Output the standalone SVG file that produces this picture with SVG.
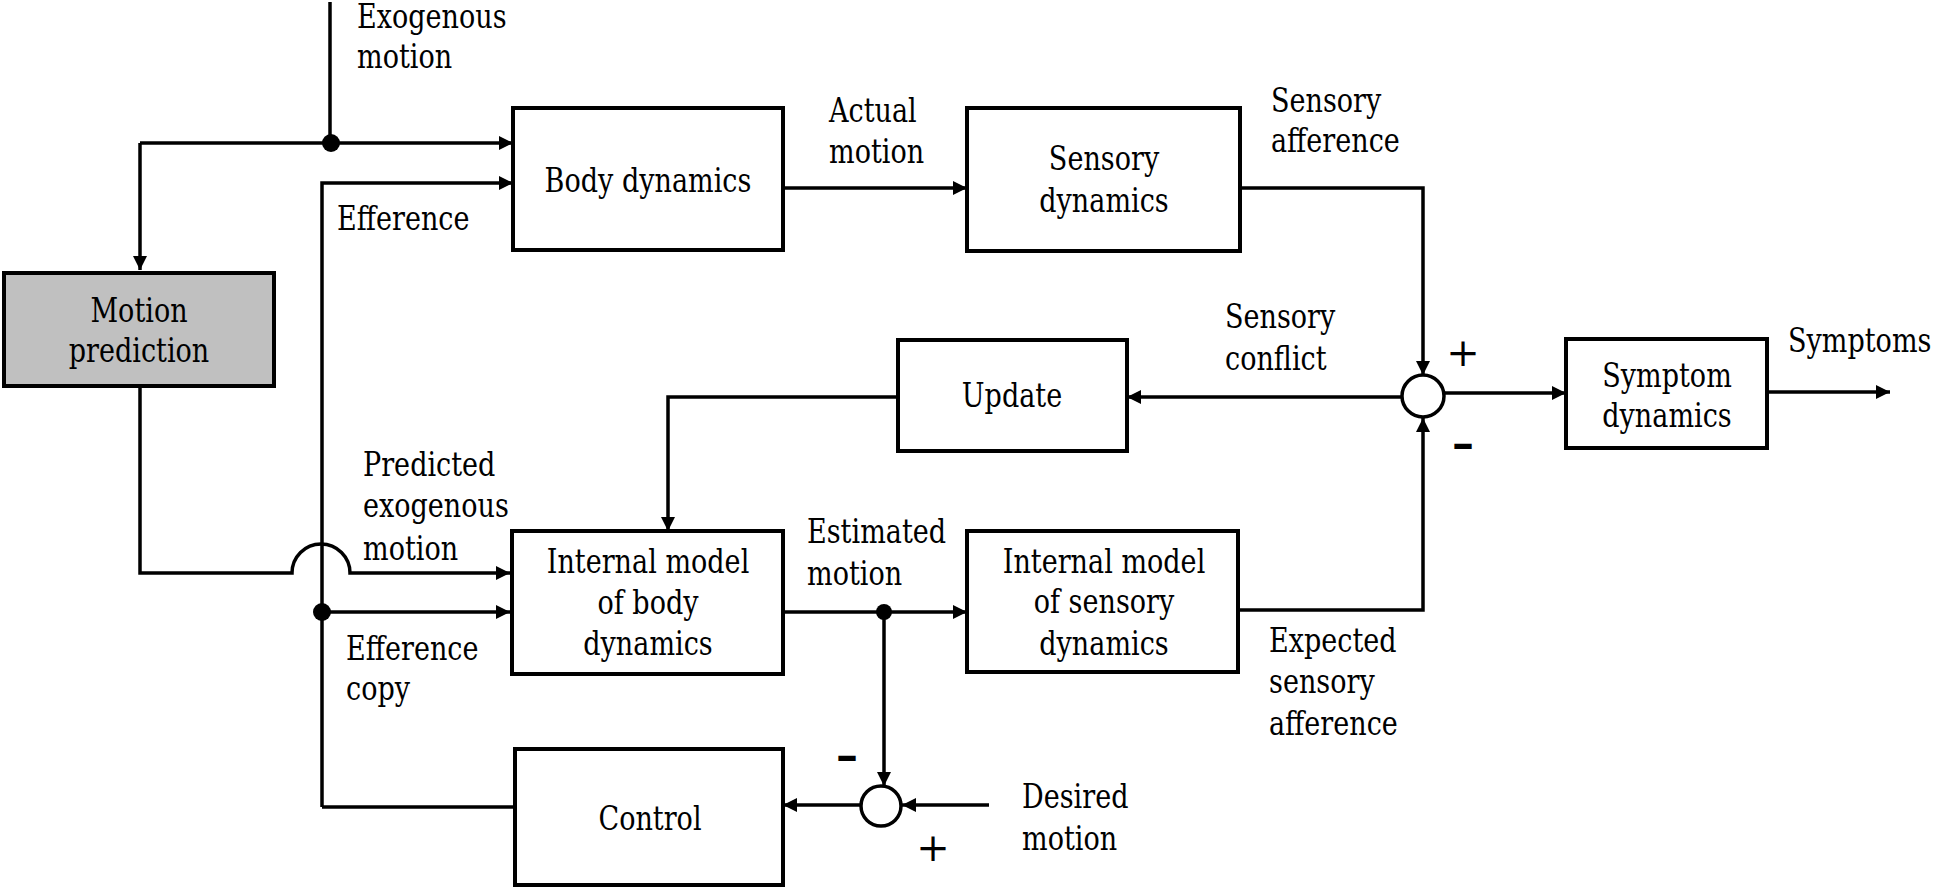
<svg xmlns="http://www.w3.org/2000/svg" width="1940" height="891" viewBox="0 0 1940 891">
<style>
text{font-family:"DejaVu Serif",serif;font-size:33px}
.c{text-anchor:middle}
.box{fill:#fff;stroke:#000;stroke-width:4}
.gray{fill:#c0c0c0}
.ln{fill:none;stroke:#000;stroke-width:3.5}
.arr{marker-end:url(#ah)}
.dot{fill:#000}
.sum{fill:#fff;stroke:#000;stroke-width:3.5}
.pl{font-size:40px}
.mn{font-size:44px;font-weight:700}
</style>
<defs>
<marker id="ah" viewBox="0 0 14 14" refX="14" refY="7" markerWidth="14" markerHeight="14" markerUnits="userSpaceOnUse" orient="auto">
<path d="M0,0 L14,7 L0,14 Z" fill="#000"/>
</marker>
</defs>
<rect width="1940" height="891" fill="#fff"/>
<g id="connectors">
<path class="ln" d="M330,2 V143"/>
<path class="ln arr" d="M140,143 H513"/>
<path class="ln arr" d="M140,143 V270"/>
<path class="ln arr" d="M322,807 V183 H513"/>
<path class="ln" d="M515,807 H322"/>
<path class="ln arr" d="M140,386 V573 H292 A29,29 0 0 1 350,573 H510"/>
<path class="ln arr" d="M322,612 H510"/>
<path class="ln arr" d="M783,188 H967"/>
<path class="ln arr" d="M1240,188 H1423 V375"/>
<path class="ln arr" d="M1444,393 H1566"/>
<path class="ln arr" d="M1767,392 H1890"/>
<path class="ln arr" d="M1402,397 H1127"/>
<path class="ln arr" d="M898,397 H668 V531"/>
<path class="ln arr" d="M783,612 H967"/>
<path class="ln arr" d="M1238,610 H1423 V418"/>
<path class="ln arr" d="M884,612 V786"/>
<path class="ln arr" d="M989,805 H902"/>
<path class="ln arr" d="M861,805 H783"/>
<circle class="dot" cx="331" cy="143" r="9"/>
<circle class="dot" cx="322" cy="612" r="9"/>
<circle class="dot" cx="884" cy="612" r="8"/>
</g>
<g id="labels">
<text transform="translate(357,28) scale(.82,1)">Exogenous</text>
<text transform="translate(357,68) scale(.82,1)">motion</text>
<text transform="translate(337,230) scale(.82,1)">Efference</text>
<text transform="translate(829,122) scale(.82,1)">Actual</text>
<text transform="translate(829,163) scale(.82,1)">motion</text>
<text transform="translate(1271,112) scale(.82,1)">Sensory</text>
<text transform="translate(1271,152) scale(.82,1)">afference</text>
<text transform="translate(1225,328) scale(.82,1)">Sensory</text>
<text transform="translate(1225,370) scale(.82,1)">conflict</text>
<text transform="translate(1788,352) scale(.82,1)">Symptoms</text>
<text transform="translate(363,476) scale(.82,1)">Predicted</text>
<text transform="translate(363,517) scale(.82,1)">exogenous</text>
<text transform="translate(363,560) scale(.82,1)">motion</text>
<text transform="translate(346,660) scale(.82,1)">Efference</text>
<text transform="translate(346,700) scale(.82,1)">copy</text>
<text transform="translate(807,543) scale(.82,1)">Estimated</text>
<text transform="translate(807,585) scale(.82,1)">motion</text>
<text transform="translate(1269,652) scale(.82,1)">Expected</text>
<text transform="translate(1269,693) scale(.82,1)">sensory</text>
<text transform="translate(1269,735) scale(.82,1)">afference</text>
<text transform="translate(1022,808) scale(.82,1)">Desired</text>
<text transform="translate(1022,850) scale(.82,1)">motion</text>
<text class="c pl" x="1463" y="366">+</text>
<text class="c mn" x="1463" y="458">–</text>
<text class="c mn" x="847" y="770">–</text>
<text class="c pl" x="933" y="861">+</text>
</g>
<g id="motion-prediction">
<rect class="box gray" x="4" y="273" width="270" height="113"/>
<text class="c" transform="translate(139,322) scale(.82,1)">Motion</text>
<text class="c" transform="translate(139,362) scale(.82,1)">prediction</text>
</g>
<g id="body-dynamics">
<rect class="box" x="513" y="108" width="270" height="142"/>
<text class="c" transform="translate(648,192) scale(.82,1)">Body dynamics</text>
</g>
<g id="sensory-dynamics">
<rect class="box" x="967" y="108" width="273" height="143"/>
<text class="c" transform="translate(1104,170) scale(.82,1)">Sensory</text>
<text class="c" transform="translate(1104,212) scale(.82,1)">dynamics</text>
</g>
<g id="update">
<rect class="box" x="898" y="340" width="229" height="111"/>
<text class="c" transform="translate(1012,407) scale(.82,1)">Update</text>
</g>
<g id="sum-conflict">
<circle class="sum" cx="1423" cy="396" r="21"/>
</g>
<g id="symptom-dynamics">
<rect class="box" x="1566" y="339" width="201" height="109"/>
<text class="c" transform="translate(1667,387) scale(.82,1)">Symptom</text>
<text class="c" transform="translate(1667,427) scale(.82,1)">dynamics</text>
</g>
<g id="internal-body">
<rect class="box" x="512" y="531" width="271" height="143"/>
<text class="c" transform="translate(648,573) scale(.82,1)">Internal model</text>
<text class="c" transform="translate(648,614) scale(.82,1)">of body</text>
<text class="c" transform="translate(648,655) scale(.82,1)">dynamics</text>
</g>
<g id="internal-sensory">
<rect class="box" x="967" y="531" width="271" height="141"/>
<text class="c" transform="translate(1104,573) scale(.82,1)">Internal model</text>
<text class="c" transform="translate(1104,613) scale(.82,1)">of sensory</text>
<text class="c" transform="translate(1104,655) scale(.82,1)">dynamics</text>
</g>
<g id="control">
<rect class="box" x="515" y="749" width="268" height="136"/>
<text class="c" transform="translate(650,830) scale(.82,1)">Control</text>
</g>
<g id="sum-control">
<circle class="sum" cx="881" cy="806" r="20"/>
</g>
</svg>
